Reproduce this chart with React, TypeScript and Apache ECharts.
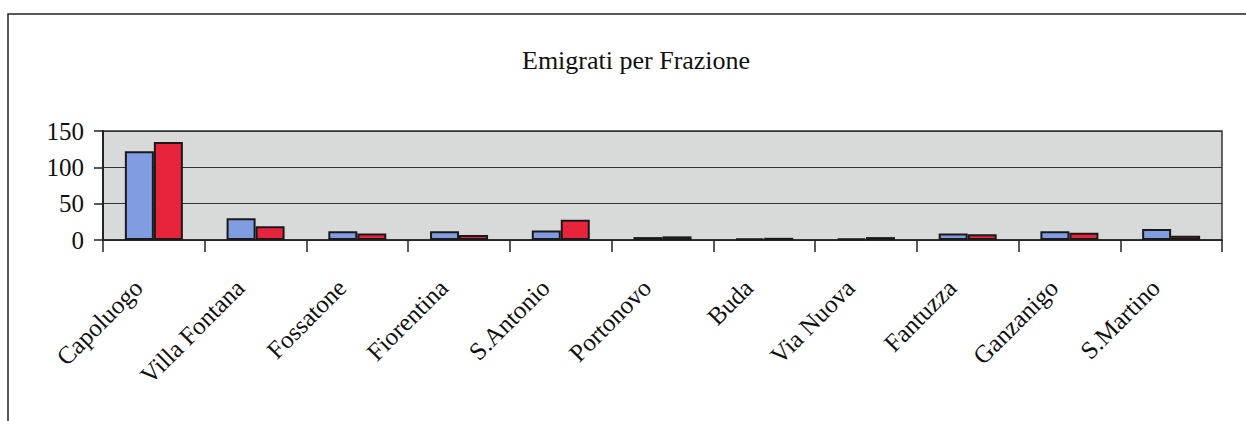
import React, { useEffect, useRef } from "react";
import * as echarts from "echarts";

const categories = ["Capoluogo", "Villa Fontana", "Fossatone", "Fiorentina", "S.Antonio", "Portonovo", "Buda", "Via Nuova", "Fantuzza", "Ganzanigo", "S.Martino"];
const seriesBlue = [122, 30, 12, 12, 13, 4, 2, 2, 9, 12, 15];
const seriesRed = [135, 19, 9, 7, 28, 5, 3, 4, 8, 10, 6];
const yTicks = [0, 50, 100, 150];

const FONT = "Liberation Serif";

export default function App() {
  const ref = useRef<HTMLDivElement>(null);
  useEffect(() => {
    const chart = echarts.init(ref.current!, null, { renderer: "svg" });
    chart.setOption({
      animation: false,
      backgroundColor: "#ffffff",
      title: {
        text: "Emigrati per Frazione",
        left: 517,
        top: 42,
        textStyle: { fontFamily: FONT, fontSize: 26, fontWeight: "normal", color: "#111" },
      },
      graphic: [
        {
          type: "rect",
          shape: { x: 8, y: 14, width: 1260, height: 430 },
          style: { fill: "none", stroke: "#222", lineWidth: 1.5 },
          silent: true,
        },
      ],
      grid: {
        left: 103,
        top: 131,
        width: 1119,
        height: 109,
        show: true,
        backgroundColor: "#d8d9d9",
        borderColor: "#333",
        borderWidth: 1.5,
      },
      xAxis: {
        type: "category",
        data: categories,
        axisLine: { lineStyle: { color: "#222", width: 1.5 } },
        axisTick: { show: true, length: 12, lineStyle: { color: "#222", width: 1.5 } },
        axisLabel: {
          rotate: 45,
          interval: 0,
          margin: 28,
          padding: [0, 22, 0, 0],
          fontFamily: FONT,
          fontSize: 25,
          color: "#111",
        },
      },
      yAxis: {
        type: "value",
        min: yTicks[0],
        max: yTicks[yTicks.length - 1],
        interval: 50,
        axisLine: { show: true, lineStyle: { color: "#222", width: 2 } },
        axisTick: { show: true, length: 9, lineStyle: { color: "#222", width: 1.5 } },
        axisLabel: { fontFamily: FONT, fontSize: 25, color: "#111", margin: 19 },
        splitLine: { show: true, lineStyle: { color: "#333", width: 1 } },
      },
      series: [
        {
          type: "bar",
          data: seriesBlue,
          barWidth: 29,
          barGap: "0%",
          itemStyle: { color: "#7f9de0", borderColor: "#1a1a1a", borderWidth: 2 },
        },
        {
          type: "bar",
          data: seriesRed,
          barWidth: 29,
          barGap: "0%",
          itemStyle: { color: "#e8233c", borderColor: "#1a1a1a", borderWidth: 2 },
        },
      ],
    });
    return () => chart.dispose();
  }, []);
  return (
    <div
      ref={ref}
      style={{ position: "fixed", left: 0, top: 0, width: 1246, height: 421 }}
    />
  );
}
